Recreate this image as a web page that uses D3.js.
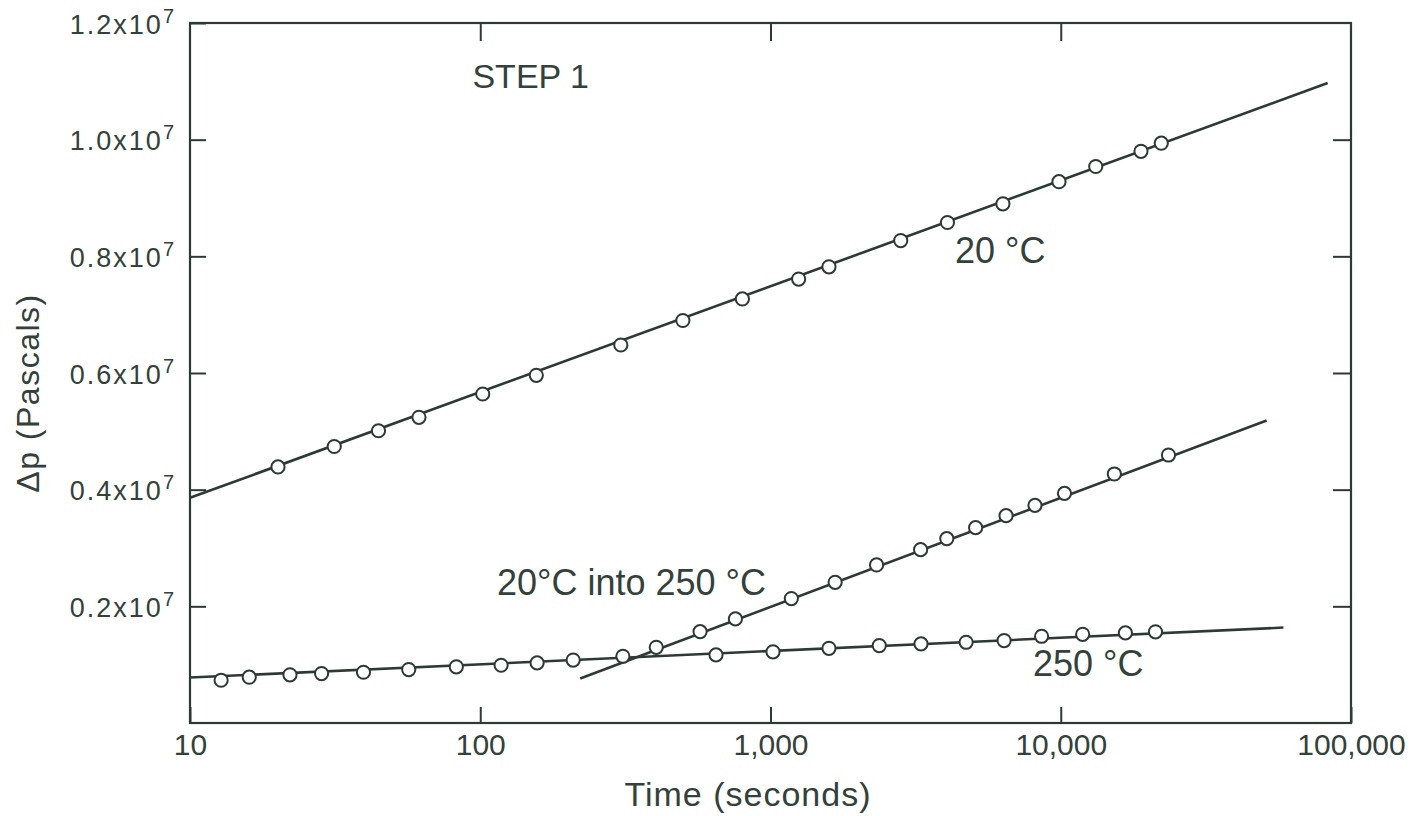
<!DOCTYPE html>
<html>
<head>
<meta charset="utf-8">
<script src="https://cdnjs.cloudflare.com/ajax/libs/d3/7.8.5/d3.min.js"></script>
<style>
  html, body { margin: 0; padding: 0; background: #ffffff; }
  svg { display: block; }
  text { font-family: "Liberation Sans", Arial, sans-serif; fill: #34413b; }
</style>
</head>
<body>
<svg id="chart" width="1421" height="816"></svg>
<script>
// Time axis (seconds, log scale)
const tickTimes = [10, 100, 1000, 10000, 100000];
const tickTimeLabels = ["10", "100", "1,000", "10,000", "100,000"];

// Pressure axis (Pascals)
const pressureTicks = [0.2e7, 0.4e7, 0.6e7, 0.8e7, 1.0e7, 1.2e7];
const pressureMantissa = ["0.2", "0.4", "0.6", "0.8", "1.0", "1.2"];

// 20 °C measurements
const time20 = [20.1, 31.4, 44.6, 61.5, 102, 156, 305, 499, 800, 1250, 1590, 2810, 4070, 6320, 9860, 13200, 18900, 22200];
const dp20 = [4.39e6, 4.74e6, 5.01e6, 5.24e6, 5.64e6, 5.96e6, 6.48e6, 6.90e6, 7.27e6, 7.61e6, 7.82e6, 8.27e6, 8.58e6, 8.90e6, 9.28e6, 9.54e6, 9.80e6, 9.94e6];
const fitTime20 = [10, 83100];
const fitDp20 = [3.86e6, 10.97e6];

// 250 °C measurements
const time250 = [12.8, 16.0, 22.1, 28.4, 39.6, 56.7, 82.7, 118, 157, 209, 310, 649, 1020, 1590, 2370, 3300, 4720, 6380, 8590, 11900, 16700, 21200];
const dp250 = [0.733e6, 0.785e6, 0.826e6, 0.848e6, 0.870e6, 0.916e6, 0.963e6, 0.990e6, 1.031e6, 1.079e6, 1.144e6, 1.168e6, 1.220e6, 1.281e6, 1.328e6, 1.357e6, 1.384e6, 1.413e6, 1.487e6, 1.521e6, 1.545e6, 1.563e6];
const fitTime250 = [10, 58500];
const fitDp250 = [0.779e6, 1.636e6];

// 20 °C specimen moved into 250 °C
const timeStep = [404, 572, 757, 1180, 1670, 2320, 3290, 4050, 5090, 6480, 8150, 10300, 15300, 23500];
const dpStep = [1.298e6, 1.567e6, 1.785e6, 2.133e6, 2.412e6, 2.710e6, 2.972e6, 3.161e6, 3.349e6, 3.555e6, 3.731e6, 3.937e6, 4.269e6, 4.594e6];
const fitTimeStep = [221, 51200];
const fitDpStep = [0.762e6, 5.187e6];

const ink = "#2d3a34";
const svg = d3.select("#chart");

const x = d3.scaleLog().domain([10, 100000]).range([190, 1351]);
const y = d3.scaleLinear().domain([0, 1.2e7]).range([723, 23]);

// frame
svg.append("rect")
  .attr("x", x(10)).attr("y", y(1.2e7))
  .attr("width", x(100000) - x(10)).attr("height", y(0) - y(1.2e7))
  .attr("fill", "none").attr("stroke", ink).attr("stroke-width", 2.2);

function styleAxis(g) {
  g.select(".domain").remove();
  g.selectAll(".tick line").attr("stroke", ink).attr("stroke-width", 2);
}

// bottom axis with inward ticks
svg.append("g")
  .attr("transform", `translate(0,${y(0)})`)
  .call(d3.axisBottom(x).tickValues(tickTimes).tickSizeInner(-16).tickSizeOuter(0)
        .tickPadding(11).tickFormat((d, i) => tickTimeLabels[i]))
  .call(styleAxis)
  .call(g => g.selectAll(".tick text").attr("font-size", 30).attr("fill", "#34413b")
        .style("font-family", "'Liberation Sans', Arial, sans-serif"));

// top axis
svg.append("g")
  .attr("transform", `translate(0,${y(1.2e7)})`)
  .call(d3.axisTop(x).tickValues([100, 1000, 10000]).tickSizeInner(-18).tickSizeOuter(0).tickFormat(""))
  .call(styleAxis);

// left axis with labels in the form m x 10^7
const leftAxis = svg.append("g")
  .attr("transform", `translate(${x(10)},0)`)
  .call(d3.axisLeft(y).tickValues(pressureTicks).tickSizeInner(-16).tickSizeOuter(0).tickFormat(""))
  .call(styleAxis);
leftAxis.selectAll(".tick text").remove();
leftAxis.selectAll(".tick").each(function(d, i) {
  const t = d3.select(this).append("text")
    .attr("x", -14).attr("y", 10)
    .attr("text-anchor", "end")
    .attr("font-size", 27)
    .attr("letter-spacing", 2)
    .attr("fill", "#34413b")
    .style("font-family", "'Liberation Sans', Arial, sans-serif");
  t.append("tspan").text(pressureMantissa[i] + "x10");
  t.append("tspan").attr("dy", -11).attr("font-size", 20).text("7");
});

// right axis
svg.append("g")
  .attr("transform", `translate(${x(100000)},0)`)
  .call(d3.axisRight(y).tickValues(pressureTicks.slice(0, 5)).tickSizeInner(-18).tickSizeOuter(0).tickFormat(""))
  .call(styleAxis);

// axis titles
svg.append("text")
  .attr("x", 748).attr("y", 806)
  .attr("text-anchor", "middle")
  .attr("font-size", 34)
  .attr("letter-spacing", 1)
  .text("Time (seconds)");

svg.append("text")
  .attr("transform", `translate(39,${(y(0) + y(1.2e7)) / 2 + 20}) rotate(-90)`)
  .attr("text-anchor", "middle")
  .attr("font-size", 32)
  .attr("letter-spacing", 1.5)
  .text("Δp (Pascals)");

// series: fitted line + open circles
const line = d3.line().x(d => x(d[0])).y(d => y(d[1]));
const series = [
  { t: time20, p: dp20, ft: fitTime20, fp: fitDp20 },
  { t: time250, p: dp250, ft: fitTime250, fp: fitDp250 },
  { t: timeStep, p: dpStep, ft: fitTimeStep, fp: fitDpStep }
];

series.forEach(s => {
  svg.append("path")
    .datum(d3.zip(s.ft, s.fp))
    .attr("d", line)
    .attr("fill", "none").attr("stroke", ink).attr("stroke-width", 2.6);
});
series.forEach(s => {
  svg.append("g").selectAll("circle")
    .data(d3.zip(s.t, s.p))
    .join("circle")
    .attr("cx", d => x(d[0])).attr("cy", d => y(d[1]))
    .attr("r", 6.6)
    .attr("fill", "#ffffff").attr("stroke", ink).attr("stroke-width", 2);
});

// annotations, anchored in data space
const notes = [
  { text: "STEP 1", t: 94, p: 10.89e6, size: 34 },
  { text: "20 °C", t: 10 ** (1 + 765 / 290.25), p: 7.88e6, size: 36 },
  { text: "20°C into 250 °C", t: 10 ** (1 + 307 / 290.25), p: 2.20e6, size: 36 },
  { text: "250 °C", t: 10 ** (1 + 843 / 290.25), p: 0.81e6, size: 36 }
];
svg.append("g").selectAll("text")
  .data(notes)
  .join("text")
  .attr("x", d => x(d.t)).attr("y", d => y(d.p))
  .attr("font-size", d => d.size)
  .text(d => d.text);
</script>
</body>
</html>
